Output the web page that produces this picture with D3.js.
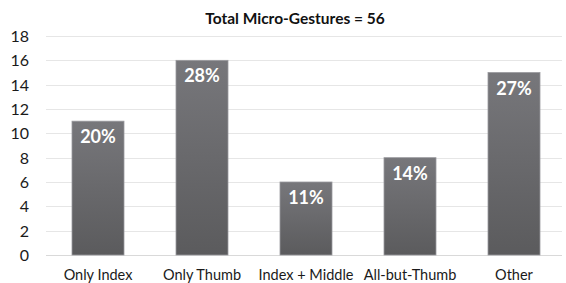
<!DOCTYPE html>
<html><head><meta charset="utf-8">
<script src="https://cdn.jsdelivr.net/npm/d3@7"></script>
<style>body{margin:0;background:#fff}svg{display:block}</style>
</head><body>
<script>
const categories = ["Only Index","Only Thumb","Index + Middle","All-but-Thumb","Other"];
const values = [11,16,6,8,15];
const percentLabels = ["20%","28%","11%","14%","27%"];
const yTicks = [0,2,4,6,8,10,12,14,16,18];
const title = "Total Micro-Gestures = 56";

const W=566,H=283;
const font = "Lato, 'Open Sans', sans-serif";
const svg=d3.select("body").append("svg").attr("width",W).attr("height",H);
const x=d3.scaleBand().domain(categories).range([46,566]).paddingInner(0.5).paddingOuter(0.25);
const y=d3.scaleLinear().domain([0,18]).range([255,36]);

const defs=svg.append("defs");
const g=defs.append("linearGradient").attr("id","bg").attr("x1",0).attr("y1",0).attr("x2",0).attr("y2",1);
g.append("stop").attr("offset","0%").attr("stop-color","#77777b");
g.append("stop").attr("offset","100%").attr("stop-color","#5b5b5d");

// grid
svg.append("g").selectAll("line").data(yTicks).join("line")
 .attr("x1",46).attr("x2",562).attr("y1",d=>Math.round(y(d))+0.5).attr("y2",d=>Math.round(y(d))+0.5)
 .attr("stroke",d=>d===0?"#d9d9d9":"#e6e6e6").attr("stroke-width",1);

// y axis
const ya=svg.append("g").attr("transform","translate(29,0)").call(d3.axisLeft(y).tickValues(yTicks).tickSize(0).tickPadding(0));
ya.select(".domain").remove();
ya.selectAll("text").attr("font-family",font).attr("font-size",16).attr("fill","#1a1a1a").attr("dy","0.35em");

// x axis
const xa=svg.append("g").attr("transform","translate(0,255)").call(d3.axisBottom(x).tickSize(0).tickPadding(0));
xa.select(".domain").remove();
xa.selectAll("text").attr("font-family",font).attr("font-size",14.5).attr("fill","#1a1a1a").attr("dy",0).attr("y",25);

// bars
svg.append("g").selectAll("rect").data(values).join("rect")
 .attr("x",(d,i)=>x(categories[i])).attr("width",x.bandwidth())
 .attr("y",d=>y(d)).attr("height",d=>y(0)-y(d))
 .attr("fill","url(#bg)").attr("stroke","#9a9a9e").attr("stroke-width",0.8);

svg.append("g").selectAll("text").data(values).join("text")
 .attr("x",(d,i)=>x(categories[i])+x.bandwidth()/2).attr("y",d=>y(d)+22)
 .attr("text-anchor","middle").attr("font-family",font).attr("font-weight","bold").attr("font-size",18)
 .attr("fill","#fff").text((d,i)=>percentLabels[i]);

svg.append("text").attr("x",295).attr("y",24).attr("text-anchor","middle")
 .attr("font-family",font).attr("font-weight","bold").attr("font-size",15.5).attr("fill","#111").text(title);
</script>
</body></html>
